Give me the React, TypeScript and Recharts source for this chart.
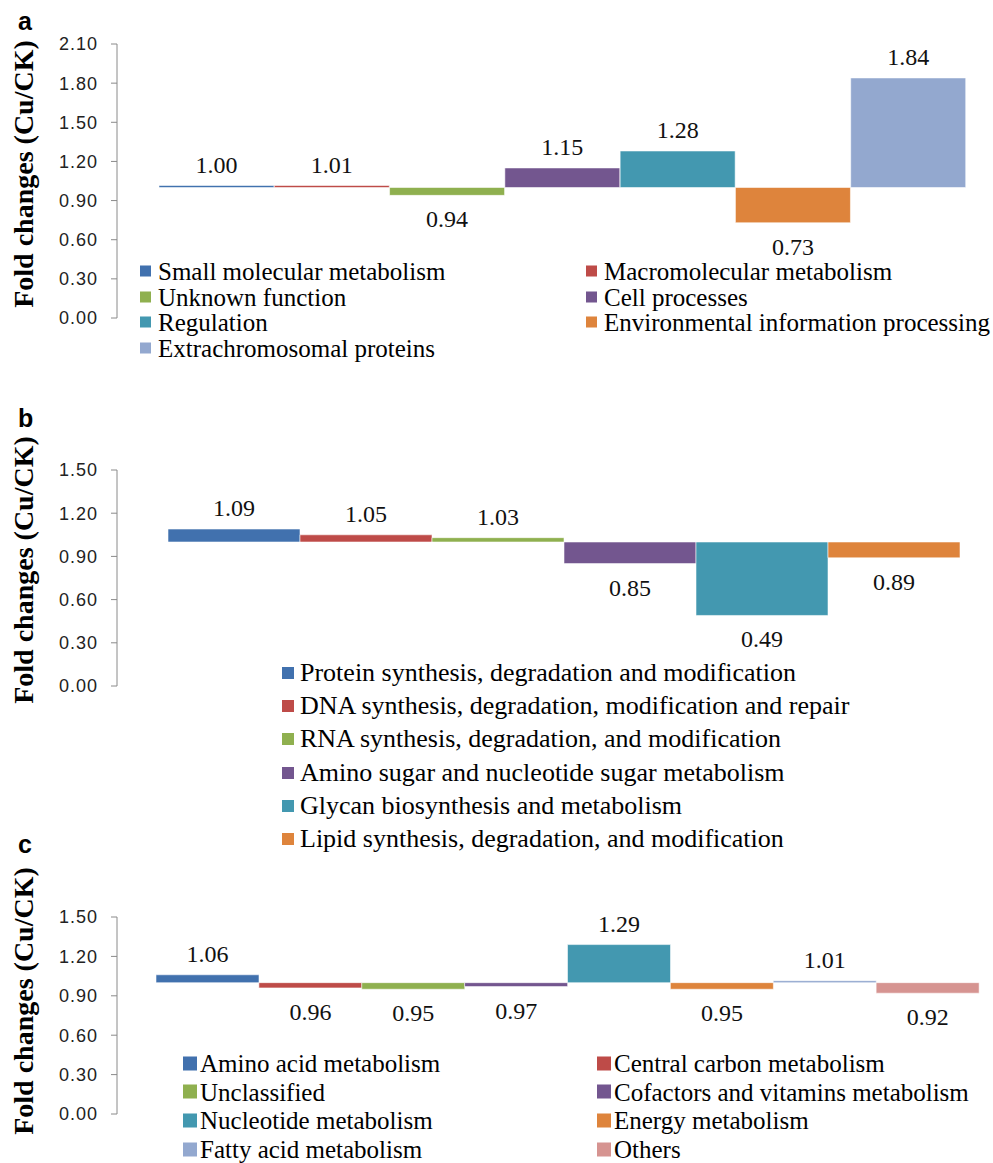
import { BarChart, Bar, XAxis, YAxis, Cell, LabelList } from "recharts"

const BASELINE = 1

const aCategories = [
  "Small molecular metabolism",
  "Macromolecular metabolism",
  "Unknown function",
  "Cell processes",
  "Regulation",
  "Environmental information processing",
  "Extrachromosomal proteins",
]
const aValues = [1.0, 1.01, 0.94, 1.15, 1.28, 0.73, 1.84]
const aTicks = [0, 0.3, 0.6, 0.9, 1.2, 1.5, 1.8, 2.1]

const bCategories = [
  "Protein synthesis, degradation and modification",
  "DNA synthesis, degradation, modification and repair",
  "RNA synthesis, degradation, and modification",
  "Amino sugar and nucleotide sugar metabolism",
  "Glycan biosynthesis and metabolism",
  "Lipid synthesis, degradation, and modification",
]
const bValues = [1.09, 1.05, 1.03, 0.85, 0.49, 0.89]
const bTicks = [0, 0.3, 0.6, 0.9, 1.2, 1.5]

const cCategories = [
  "Amino acid metabolism",
  "Central carbon metabolism",
  "Unclassified",
  "Cofactors and vitamins metabolism",
  "Nucleotide metabolism",
  "Energy metabolism",
  "Fatty acid metabolism",
  "Others",
]
const cValues = [1.06, 0.96, 0.95, 0.97, 1.29, 0.95, 1.01, 0.92]
const cTicks = [0, 0.3, 0.6, 0.9, 1.2, 1.5]

const BLUE = "#4171AE"
const RED = "#BE4B48"
const GREEN = "#8FB04F"
const PURPLE = "#73568F"
const TEAL = "#4398B0"
const ORANGE = "#DE843C"
const LIGHTBLUE = "#93A8CF"
const PINK = "#D69491"

const aColors = [BLUE, RED, GREEN, PURPLE, TEAL, ORANGE, LIGHTBLUE]
const bColors = [BLUE, RED, GREEN, PURPLE, TEAL, ORANGE]
const cColors = [BLUE, RED, GREEN, PURPLE, TEAL, ORANGE, LIGHTBLUE, PINK]

const SERIF = "'Liberation Serif', 'Times New Roman', serif"
const SANS = "'Liberation Sans', Arial, sans-serif"
const TITLE = "Fold changes (Cu/CK)"

function renderLabel(p: any) {
  const x = p.x ?? p.viewBox?.x ?? 0
  const y = p.y ?? p.viewBox?.y ?? 0
  const w = p.width ?? p.viewBox?.width ?? 0
  const h = p.height ?? p.viewBox?.height ?? 0
  const v = Number(p.value)
  const top = Math.min(y, y + h)
  const bottom = Math.max(y, y + h)
  const cy = v >= BASELINE ? top - 21 : bottom + 24
  return (
    <text
      x={x + w / 2}
      y={cy}
      textAnchor="middle"
      dominantBaseline="central"
      fontFamily={SERIF}
      fontSize={24}
      fill="#111"
    >
      {v.toFixed(2)}
    </text>
  )
}

interface LegendCfg {
  cols: number[]
  firstRow: number
  step: number
  fontSize: number
  marker: number
  gap: number
}

interface PanelProps {
  letter: string
  top: number
  height: number
  plotTop: number
  plotBottom: number
  axisX: number
  barsLeft: number
  barsRight: number
  domainMax: number
  ticks: number[]
  names: string[]
  values: number[]
  colors: string[]
  letterBaseline: number
  titleCenter: number
  legend: LegendCfg
}

function Panel(props: PanelProps) {
  const {
    letter, top, height, plotTop, plotBottom, axisX, barsLeft, barsRight,
    domainMax, ticks, names, values, colors, letterBaseline, titleCenter, legend,
  } = props
  const data = names.map((name, i) => ({
    name,
    value: values[i],
    range: [BASELINE, values[i]],
  }))
  const nCols = legend.cols.length
  return (
    <div style={{ position: "absolute", left: 0, top, width: 993, height }}>
      <BarChart
        width={993}
        height={height}
        data={data}
        barCategoryGap={0}
        margin={{ top: plotTop - top, right: 993 - barsRight, bottom: top + height - plotBottom, left: 0 }}
      >
        <XAxis dataKey="name" hide padding={{ left: barsLeft - axisX, right: 0 }} />
        <YAxis
          width={axisX}
          domain={[0, domainMax]}
          ticks={ticks}
          interval={0}
          tickFormatter={(v: number) => v.toFixed(2)}
          tick={{ fontFamily: SANS, fontSize: 18, fill: "#222", letterSpacing: 1 }}
          axisLine={{ stroke: "#8a8a8a" }}
          tickLine={{ stroke: "#8a8a8a" }}
          tickSize={6}
          tickMargin={13}
        />
        <Bar
          dataKey="range"
          isAnimationActive={false}
          minPointSize={2}
          stroke="rgba(255,255,255,0.55)"
          strokeWidth={1}
        >
          {data.map((d, i) => (
            <Cell key={d.name} fill={colors[i]} />
          ))}
          <LabelList dataKey="value" content={renderLabel} />
        </Bar>
      </BarChart>
      <svg
        width={993}
        height={height}
        style={{ position: "absolute", left: 0, top: 0, pointerEvents: "none" }}
      >
        <text x={18} y={letterBaseline - top} fontFamily={SANS} fontWeight="bold" fontSize={25} fill="#000">
          {letter}
        </text>
        <text
          x={33}
          y={titleCenter - top}
          transform={`rotate(-90, 33, ${titleCenter - top})`}
          textAnchor="middle"
          fontFamily={SERIF}
          fontWeight="bold"
          fontSize={28}
          fill="#000"
        >
          {TITLE}
        </text>
      </svg>
      {names.map((name, i) => {
        const col = i % nCols
        const row = Math.floor(i / nCols)
        return (
          <div
            key={name}
            style={{
              position: "absolute",
              left: legend.cols[col],
              top: legend.firstRow + row * legend.step - top,
              transform: "translateY(-50%)",
              display: "flex",
              alignItems: "center",
              whiteSpace: "nowrap",
              fontFamily: SERIF,
              fontSize: legend.fontSize,
              lineHeight: 1,
              color: "#000",
            }}
          >
            <span
              style={{
                display: "inline-block",
                width: legend.marker,
                height: legend.marker,
                background: colors[i],
                marginRight: legend.gap,
              }}
            />
            <span>{name}</span>
          </div>
        )
      })}
    </div>
  )
}

export default function App() {
  return (
    <div style={{ position: "absolute", left: 0, top: 0, width: 993, height: 1163, background: "#fff", overflow: "hidden" }}>
      <Panel
        letter="a"
        top={0}
        height={400}
        plotTop={44}
        plotBottom={318}
        axisX={117}
        barsLeft={159}
        barsRight={966}
        domainMax={2.1}
        ticks={aTicks}
        names={aCategories}
        values={aValues}
        colors={aColors}
        letterBaseline={30}
        titleCenter={174}
        legend={{ cols: [140, 586], firstRow: 271, step: 25.5, fontSize: 25, marker: 11, gap: 7 }}
      />
      <Panel
        letter="b"
        top={400}
        height={400}
        plotTop={470}
        plotBottom={686}
        axisX={117}
        barsLeft={168}
        barsRight={960}
        domainMax={1.5}
        ticks={bTicks}
        names={bCategories}
        values={bValues}
        colors={bColors}
        letterBaseline={427}
        titleCenter={570}
        legend={{ cols: [282], firstRow: 673, step: 33.2, fontSize: 26, marker: 12, gap: 6 }}
      />
      <Panel
        letter="c"
        top={800}
        height={363}
        plotTop={917}
        plotBottom={1114}
        axisX={117}
        barsLeft={156}
        barsRight={979}
        domainMax={1.5}
        ticks={cTicks}
        names={cCategories}
        values={cValues}
        colors={cColors}
        letterBaseline={853}
        titleCenter={1001}
        legend={{ cols: [183, 597], firstRow: 1063, step: 28.7, fontSize: 25, marker: 14, gap: 3 }}
      />
    </div>
  )
}
